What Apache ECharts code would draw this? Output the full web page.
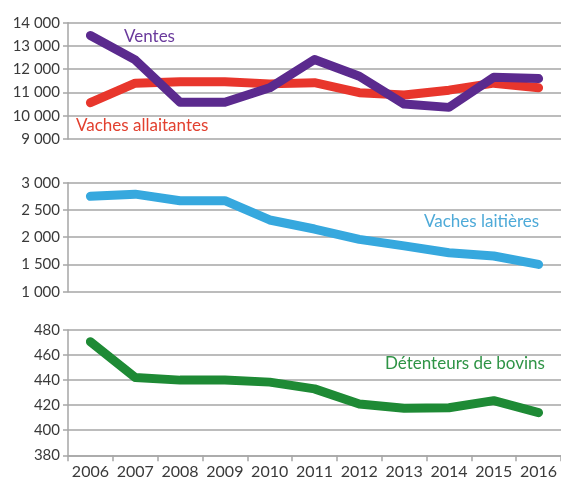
<!DOCTYPE html>
<html>
<head>
<meta charset="utf-8">
<script src="https://cdn.jsdelivr.net/npm/echarts@6/dist/echarts.min.js"></script>
<style>
  html, body { margin: 0; padding: 0; background: #fff; }
  #chart { width: 561px; height: 481px; }
</style>
</head>
<body>
<div id="chart"></div>
<script>
// années
var years = ['2006', '2007', '2008', '2009', '2010', '2011', '2012', '2013', '2014', '2015', '2016'];
// panneau du haut
var ventes = [13450, 12400, 10580, 10580, 11200, 12420, 11700, 10500, 10360, 11650, 11600];
var vachesAllaitantes = [10560, 11400, 11460, 11460, 11370, 11420, 10990, 10890, 11100, 11400, 11200];
// panneau du milieu
var vachesLaitieres = [2750, 2790, 2670, 2670, 2316, 2150, 1960, 1840, 1716, 1655, 1500];
// panneau du bas
var detenteurs = [470.7, 442, 440, 440, 438.4, 433, 421, 417.5, 418, 423.6, 414];

var font = 'Lato';
var gridColor = '#a6a6a6';

function sepMilliers(v) {
  return String(v).replace(/\B(?=(\d{3})+(?!\d))/g, ' ');
}

function yAxe(idx, min, max, interval) {
  return {
    type: 'value', gridIndex: idx, min: min, max: max, interval: interval,
    axisLine: { show: true, lineStyle: { color: gridColor, width: 1.5 } },
    axisTick: { show: true, length: 5, lineStyle: { color: gridColor, width: 1.5 } },
    splitLine: { lineStyle: { color: gridColor, width: 1.5 } },
    axisLabel: { color: '#3a3a3a', fontSize: 15, fontFamily: font, margin: 8, formatter: sepMilliers }
  };
}

function xAxe(idx, visible) {
  return {
    type: 'category', gridIndex: idx, data: years, boundaryGap: true,
    axisLine: { show: visible, lineStyle: { color: gridColor, width: 1.5 } },
    axisTick: { show: visible, length: 6, alignWithLabel: false, lineStyle: { color: gridColor, width: 1.5 } },
    axisLabel: { show: visible, color: '#3a3a3a', fontSize: 16, fontFamily: font, margin: 9, interval: 0 },
    splitLine: { show: false }
  };
}

function serie(name, data, color, idx) {
  return {
    name: name, type: 'line', data: data, xAxisIndex: idx, yAxisIndex: idx,
    symbol: 'none', smooth: false, animation: false,
    lineStyle: { color: color, width: 9, cap: 'round', join: 'round' }
  };
}

function etiquette(text, x, y, color) {
  return {
    type: 'text', left: x, top: y,
    style: { text: text, fill: color, fontSize: 17, fontFamily: font }
  };
}

var chart = echarts.init(document.getElementById('chart'), null, { renderer: 'canvas' });
chart.setOption({
  backgroundColor: '#ffffff',
  animation: false,
  grid: [
    { left: 68, right: -3, top: 22.7, height: 116.3 },
    { left: 68, right: -3, top: 182.7, height: 109 },
    { left: 68, right: -3, top: 330, height: 125.3 }
  ],
  xAxis: [xAxe(0, false), xAxe(1, false), xAxe(2, true)],
  yAxis: [yAxe(0, 9000, 14000, 1000), yAxe(1, 1000, 3000, 500), yAxe(2, 380, 480, 20)],
  series: [
    serie('Vaches allaitantes', vachesAllaitantes, '#e8362c', 0),
    serie('Ventes', ventes, '#5b2a8e', 0),
    serie('Vaches laitières', vachesLaitieres, '#36a8de', 1),
    serie('Détenteurs de bovins', detenteurs, '#1e8a35', 2)
  ],
  graphic: [
    etiquette('Ventes', 124, 28, '#6a3a9c'),
    etiquette('Vaches allaitantes', 76, 117, '#e2402f'),
    etiquette('Vaches laitières', 424, 213, '#4eaad8'),
    etiquette('Détenteurs de bovins', 385, 355, '#2f9446')
  ]
});
</script>
</body>
</html>
